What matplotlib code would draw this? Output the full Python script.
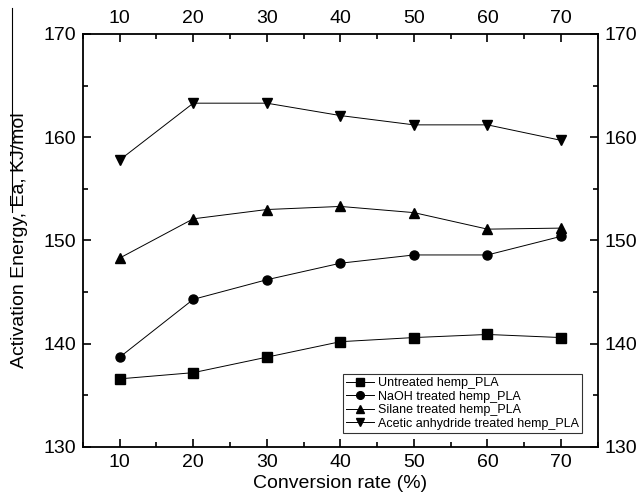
import matplotlib
matplotlib.use("Agg")
import matplotlib.pyplot as plt
from matplotlib.lines import Line2D
from matplotlib.ticker import MultipleLocator

plt.rcParams["font.family"] = ["Liberation Sans", "DejaVu Sans"]

conversion = [10, 20, 30, 40, 50, 60, 70]
untreated = [136.6, 137.2, 138.7, 140.2, 140.6, 140.9, 140.6]
naoh = [138.7, 144.3, 146.2, 147.8, 148.6, 148.6, 150.4]
silane = [148.3, 152.1, 153.0, 153.3, 152.7, 151.1, 151.2]
acetic = [157.8, 163.3, 163.3, 162.1, 161.2, 161.2, 159.7]

series = [
    ("Untreated hemp_PLA", untreated, "s"),
    ("NaOH treated hemp_PLA", naoh, "o"),
    ("Silane treated hemp_PLA", silane, "^"),
    ("Acetic anhydride treated hemp_PLA", acetic, "v"),
]

fig = plt.figure(figsize=(6.38, 5.0), dpi=100)
ax = fig.add_axes([0.130, 0.106, 0.807, 0.826])

for label, vals, mk in series:
    ax.plot(conversion, vals, color="black", lw=0.7, marker=mk,
            markersize=6.5, label=label)

ax.set_xlim(5, 75)
ax.set_ylim(130, 170)
ax.xaxis.set_major_locator(MultipleLocator(10))
ax.xaxis.set_minor_locator(MultipleLocator(5))
ax.yaxis.set_major_locator(MultipleLocator(10))
ax.yaxis.set_minor_locator(MultipleLocator(5))
ax.tick_params(which="both", direction="in", top=True, right=True,
               labeltop=True, labelright=True, labelsize=14, width=1.2)
ax.tick_params(which="major", length=6, pad=5)
ax.tick_params(which="minor", length=3.5)
for sp in ax.spines.values():
    sp.set_linewidth(1.3)

ax.set_xlabel("Conversion rate (%)", fontsize=14, labelpad=3)
ax.set_ylabel("Activation Energy, Ea, KJ/mol", fontsize=14)
ax.yaxis.set_label_coords(-0.106, 0.5)

leg = ax.legend(loc="lower right", fontsize=9, frameon=True, fancybox=False,
                edgecolor="black", handlelength=2.2, handletextpad=0.3,
                labelspacing=0.12, borderpad=0.25, markerscale=0.85,
                borderaxespad=0.0, bbox_to_anchor=(0.969, 0.034))
leg.get_frame().set_linewidth(0.8)

# stray vertical line on the left edge of the original scan
fig.add_artist(Line2D([12 / 638, 12 / 638], [1 - 8 / 500, 1 - 212 / 500],
                      color="black", lw=0.8, transform=fig.transFigure))

fig.savefig("out.png", dpi=100)
